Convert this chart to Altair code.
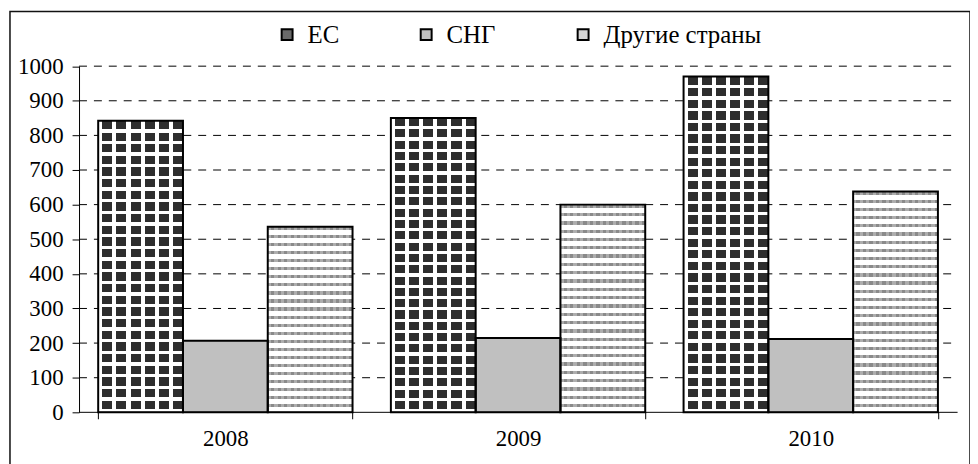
import altair as alt
import pandas as pd

years = ["2008", "2009", "2010"]
series = ["ЕС", "СНГ", "Другие страны"]
eu_values = [842, 850, 970]
cis_values = [207, 215, 212]
other_values = [536, 600, 638]
grid_values = [100, 200, 300, 400, 500, 600, 700, 800, 900, 1000]
legend_colors = ["#6a6a6a", "#c0c0c0", "#d6d6d6"]

rows = []
for i, y in enumerate(years):
    rows.append({"year": y, "series": series[0], "value": eu_values[i]})
    rows.append({"year": y, "series": series[1], "value": cis_values[i]})
    rows.append({"year": y, "series": series[2], "value": other_values[i]})
df = pd.DataFrame(rows)
grid_df = pd.DataFrame({"value": grid_values})
frame_df = pd.DataFrame({"k": [0]})

FONT = "Liberation Serif"
W, H = 967, 458
PAD = 1.5
Y0, Y1 = 404, 55.5          # y-range (px inside view)
X0, X1 = 70, 954            # x-range (px inside view)
PX_PER_UNIT = (Y0 - Y1) / 1000.0

xscale = alt.Scale(domain=years, range=[X0, X1], paddingInner=0.131, paddingOuter=0.0655)
yscale = alt.Scale(domain=[0, 1000], range=[Y0, Y1], nice=False)
oscale = alt.Scale(domain=series, paddingInner=0, paddingOuter=0)

xaxis = alt.Axis(title=None, offset=-(8 + PAD + H - 413), labelFont=FONT, labelFontSize=23,
                 labelColor="black", domainColor="black", domainWidth=1, tickColor="black",
                 tickSize=7, tickBand="extent", labelPadding=9, labelAngle=0, grid=False, zindex=1)
yaxis = alt.Axis(title=None, offset=-X0, labelFont=FONT, labelFontSize=23, labelColor="black",
                 domainColor="black", tickColor="black", tickSize=7, labelPadding=9,
                 values=[0] + grid_values, format="d", grid=False, zindex=1)


def stripes(n, duty, c_on, c_off, vertical=False):
    stops = []
    for i in range(n):
        a = round(i / n, 5)
        b = round((i + duty) / n, 5)
        c = round((i + 1) / n, 5)
        stops += [alt.GradientStop(color=c_on, offset=a), alt.GradientStop(color=c_on, offset=b),
                  alt.GradientStop(color=c_off, offset=b), alt.GradientStop(color=c_off, offset=c)]
    if vertical:
        return alt.LinearGradient(gradient="linear", stops=stops, x1=0, y1=0, x2=1, y2=0)
    return alt.LinearGradient(gradient="linear", stops=stops, x1=0, y1=0, x2=0, y2=1)


def enc(chart):
    return chart.encode(
        x=alt.X("year:N", scale=xscale, axis=xaxis, sort=years),
        xOffset=alt.XOffset("series:N", scale=oscale, sort=series),
        y=alt.Y("value:Q", scale=yscale, axis=yaxis),
    )


frame = alt.Chart(frame_df).mark_rect(fill="white", stroke="#111111", strokeWidth=1.5).encode(
    x=alt.value(0.5), x2=alt.value(W), y=alt.value(0.5), y2=alt.value(H + 4)
)

grid = alt.Chart(grid_df).mark_rule(color="black", strokeWidth=1, strokeDash=[8, 7]).encode(
    y=alt.Y("value:Q", scale=yscale, axis=yaxis),
    x=alt.value(X0),
    x2=alt.value(X1),
)

base = enc(alt.Chart(df).mark_bar(strokeWidth=0)).encode(
    fill=alt.Fill("series:N", scale=alt.Scale(domain=series, range=legend_colors),
                  legend=alt.Legend(title=None, orient="none", legendX=267, legendY=11,
                                    direction="horizontal", symbolType="square", symbolSize=121,
                                    symbolStrokeColor="black", symbolStrokeWidth=2,
                                    labelFont=FONT, labelFontSize=25, labelColor="black",
                                    labelOffset=8, columnPadding=75, zindex=1))
)

layers = [frame, grid, base]
for i, y in enumerate(years):
    # EU: dark diamonds-like grid
    h_px = eu_values[i] * PX_PER_UNIT
    n = max(1, round(h_px / 11.6))
    sub = df[(df.year == y) & (df.series == series[0])]
    layers.append(enc(alt.Chart(sub).mark_bar(strokeWidth=0, fill=stripes(n, 0.71, "#2e2e2e", "#ffffff"))))
    layers.append(enc(alt.Chart(sub).mark_bar(strokeWidth=0, fill=stripes(6, 0.29, "#ffffff", "rgba(255,255,255,0)", vertical=True))))
    # Other countries: wavy lines
    h_px = other_values[i] * PX_PER_UNIT
    n = max(1, round(h_px / 8.3))
    sub = df[(df.year == y) & (df.series == series[2])]
    layers.append(enc(alt.Chart(sub).mark_bar(strokeWidth=0, fill=stripes(n, 0.4, "#8a8a8a", "#ffffff"))))
    layers.append(enc(alt.Chart(sub).mark_bar(strokeWidth=0, fill=stripes(13, 0.5, "rgba(255,255,255,0.3)", "rgba(255,255,255,0)", vertical=True))))

outline = enc(alt.Chart(df).mark_bar(fillOpacity=0, stroke="black", strokeWidth=2))
layers.append(outline)

chart = alt.layer(*layers).properties(
    width=W, height=H,
    autosize=alt.AutoSizeParams(type="none"),
    padding={"left": PAD, "top": PAD, "right": 0, "bottom": 0},
).configure_view(stroke=None).configure(
    background="white", font=FONT
).configure_axis(labelFont=FONT).configure_legend(labelFont=FONT)

chart.save("out.html", embed_options={"renderer": "svg", "actions": False})
